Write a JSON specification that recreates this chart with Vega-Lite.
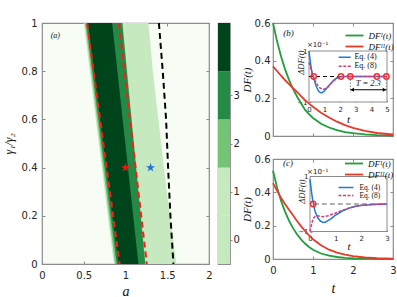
{
  "$schema": "https://vega.github.io/schema/vega-lite/v6.json",
  "background": "white",
  "padding": {"left": 1, "top": 17, "right": 0, "bottom": 0},
  "datasets": {
    "bands": [
      {"lvl": 1, "g": 0, "a": 0.86, "a2": 1.61}, {"lvl": 1, "g": 0.2, "a": 0.788, "a2": 1.53}, {"lvl": 1, "g": 0.4, "a": 0.716, "a2": 1.46}, {"lvl": 1, "g": 0.6, "a": 0.644, "a2": 1.394}, {"lvl": 1, "g": 0.8, "a": 0.572, "a2": 1.327}, {"lvl": 1, "g": 1, "a": 0.5, "a2": 1.275},
      {"lvl": 2, "g": 0, "a": 0.875, "a2": 1.24}, {"lvl": 2, "g": 0.2, "a": 0.803, "a2": 1.185}, {"lvl": 2, "g": 0.4, "a": 0.731, "a2": 1.13}, {"lvl": 2, "g": 0.6, "a": 0.659, "a2": 1.075}, {"lvl": 2, "g": 0.8, "a": 0.587, "a2": 1.02}, {"lvl": 2, "g": 1, "a": 0.515, "a2": 0.965},
      {"lvl": 3, "g": 0, "a": 0.895, "a2": 1.235}, {"lvl": 3, "g": 0.2, "a": 0.822, "a2": 1.18}, {"lvl": 3, "g": 0.4, "a": 0.749, "a2": 1.125}, {"lvl": 3, "g": 0.6, "a": 0.676, "a2": 1.07}, {"lvl": 3, "g": 0.8, "a": 0.603, "a2": 1.015}, {"lvl": 3, "g": 1, "a": 0.53, "a2": 0.96},
      {"lvl": 4, "g": 0, "a": 0.915, "a2": 1.155}, {"lvl": 4, "g": 0.2, "a": 0.842, "a2": 1.092}, {"lvl": 4, "g": 0.4, "a": 0.769, "a2": 1.029}, {"lvl": 4, "g": 0.6, "a": 0.696, "a2": 0.966}, {"lvl": 4, "g": 0.8, "a": 0.623, "a2": 0.903}, {"lvl": 4, "g": 1, "a": 0.55, "a2": 0.84}
    ],
    "redlines": [
      {"id": "L", "a": 0.54, "g": 1}, {"id": "L", "a": 0.93, "g": 0},
      {"id": "R", "a": 0.92, "g": 1}, {"id": "R", "a": 1.255, "g": 0}
    ],
    "blackline": [
      {"a": 1.4, "g": 1}, {"a": 1.446, "g": 0.8}, {"a": 1.486, "g": 0.6}, {"a": 1.51, "g": 0.4}, {"a": 1.538, "g": 0.2}, {"a": 1.574, "g": 0}
    ],
    "stars": [
      {"a": 1.0, "g": 0.4, "who": "red"}, {"a": 1.3, "g": 0.4, "who": "blue"}
    ],
    "cbar": [
      {"lo": -0.5, "hi": 0.5, "lvl": 0}, {"lo": 0.5, "hi": 1.5, "lvl": 1}, {"lo": 1.5, "hi": 2.5, "lvl": 2}, {"lo": 2.5, "hi": 3.5, "lvl": 3}, {"lo": 3.5, "hi": 4.5, "lvl": 4}
    ],
    "mainB": [
      {"s": "DF\u1d35(t)", "t": 0, "v": 0.6}, {"s": "DF\u1d35(t)", "t": 0.1, "v": 0.504}, {"s": "DF\u1d35(t)", "t": 0.2, "v": 0.423}, {"s": "DF\u1d35(t)", "t": 0.3, "v": 0.355}, {"s": "DF\u1d35(t)", "t": 0.4, "v": 0.298}, {"s": "DF\u1d35(t)", "t": 0.5, "v": 0.25}, {"s": "DF\u1d35(t)", "t": 0.6, "v": 0.21}, {"s": "DF\u1d35(t)", "t": 0.7, "v": 0.174}, {"s": "DF\u1d35(t)", "t": 0.8, "v": 0.14}, {"s": "DF\u1d35(t)", "t": 0.9, "v": 0.116}, {"s": "DF\u1d35(t)", "t": 1.0, "v": 0.095}, {"s": "DF\u1d35(t)", "t": 1.2, "v": 0.065}, {"s": "DF\u1d35(t)", "t": 1.4, "v": 0.045}, {"s": "DF\u1d35(t)", "t": 1.6, "v": 0.031}, {"s": "DF\u1d35(t)", "t": 1.8, "v": 0.021}, {"s": "DF\u1d35(t)", "t": 2.0, "v": 0.015}, {"s": "DF\u1d35(t)", "t": 2.3, "v": 0.009}, {"s": "DF\u1d35(t)", "t": 2.6, "v": 0.005}, {"s": "DF\u1d35(t)", "t": 3.0, "v": 0.002},
      {"s": "DF\u1d35\u1d35(t)", "t": 0, "v": 0.37}, {"s": "DF\u1d35\u1d35(t)", "t": 0.1, "v": 0.345}, {"s": "DF\u1d35\u1d35(t)", "t": 0.2, "v": 0.32}, {"s": "DF\u1d35\u1d35(t)", "t": 0.3, "v": 0.297}, {"s": "DF\u1d35\u1d35(t)", "t": 0.4, "v": 0.275}, {"s": "DF\u1d35\u1d35(t)", "t": 0.5, "v": 0.254}, {"s": "DF\u1d35\u1d35(t)", "t": 0.6, "v": 0.234}, {"s": "DF\u1d35\u1d35(t)", "t": 0.7, "v": 0.212}, {"s": "DF\u1d35\u1d35(t)", "t": 0.8, "v": 0.19}, {"s": "DF\u1d35\u1d35(t)", "t": 0.9, "v": 0.172}, {"s": "DF\u1d35\u1d35(t)", "t": 1.0, "v": 0.155}, {"s": "DF\u1d35\u1d35(t)", "t": 1.2, "v": 0.124}, {"s": "DF\u1d35\u1d35(t)", "t": 1.4, "v": 0.098}, {"s": "DF\u1d35\u1d35(t)", "t": 1.6, "v": 0.076}, {"s": "DF\u1d35\u1d35(t)", "t": 1.8, "v": 0.058}, {"s": "DF\u1d35\u1d35(t)", "t": 2.0, "v": 0.043}, {"s": "DF\u1d35\u1d35(t)", "t": 2.3, "v": 0.027}, {"s": "DF\u1d35\u1d35(t)", "t": 2.6, "v": 0.016}, {"s": "DF\u1d35\u1d35(t)", "t": 3.0, "v": 0.008}
    ],
    "mainC": [
      {"s": "DF\u1d35(t)", "t": 0, "v": 0.53}, {"s": "DF\u1d35(t)", "t": 0.1, "v": 0.43}, {"s": "DF\u1d35(t)", "t": 0.2, "v": 0.35}, {"s": "DF\u1d35(t)", "t": 0.3, "v": 0.284}, {"s": "DF\u1d35(t)", "t": 0.4, "v": 0.23}, {"s": "DF\u1d35(t)", "t": 0.5, "v": 0.185}, {"s": "DF\u1d35(t)", "t": 0.6, "v": 0.148}, {"s": "DF\u1d35(t)", "t": 0.7, "v": 0.118}, {"s": "DF\u1d35(t)", "t": 0.8, "v": 0.093}, {"s": "DF\u1d35(t)", "t": 0.9, "v": 0.072}, {"s": "DF\u1d35(t)", "t": 1.0, "v": 0.055}, {"s": "DF\u1d35(t)", "t": 1.2, "v": 0.033}, {"s": "DF\u1d35(t)", "t": 1.4, "v": 0.02}, {"s": "DF\u1d35(t)", "t": 1.6, "v": 0.012}, {"s": "DF\u1d35(t)", "t": 1.8, "v": 0.007}, {"s": "DF\u1d35(t)", "t": 2.0, "v": 0.004}, {"s": "DF\u1d35(t)", "t": 2.3, "v": 0.002}, {"s": "DF\u1d35(t)", "t": 2.6, "v": 0.001}, {"s": "DF\u1d35(t)", "t": 3.0, "v": 0},
      {"s": "DF\u1d35\u1d35(t)", "t": 0, "v": 0.455}, {"s": "DF\u1d35\u1d35(t)", "t": 0.1, "v": 0.41}, {"s": "DF\u1d35\u1d35(t)", "t": 0.2, "v": 0.368}, {"s": "DF\u1d35\u1d35(t)", "t": 0.3, "v": 0.33}, {"s": "DF\u1d35\u1d35(t)", "t": 0.4, "v": 0.295}, {"s": "DF\u1d35\u1d35(t)", "t": 0.5, "v": 0.262}, {"s": "DF\u1d35\u1d35(t)", "t": 0.6, "v": 0.228}, {"s": "DF\u1d35\u1d35(t)", "t": 0.7, "v": 0.197}, {"s": "DF\u1d35\u1d35(t)", "t": 0.8, "v": 0.168}, {"s": "DF\u1d35\u1d35(t)", "t": 0.9, "v": 0.142}, {"s": "DF\u1d35\u1d35(t)", "t": 1.0, "v": 0.118}, {"s": "DF\u1d35\u1d35(t)", "t": 1.2, "v": 0.082}, {"s": "DF\u1d35\u1d35(t)", "t": 1.4, "v": 0.056}, {"s": "DF\u1d35\u1d35(t)", "t": 1.6, "v": 0.038}, {"s": "DF\u1d35\u1d35(t)", "t": 1.8, "v": 0.026}, {"s": "DF\u1d35\u1d35(t)", "t": 2.0, "v": 0.017}, {"s": "DF\u1d35\u1d35(t)", "t": 2.3, "v": 0.009}, {"s": "DF\u1d35\u1d35(t)", "t": 2.6, "v": 0.005}, {"s": "DF\u1d35\u1d35(t)", "t": 3.0, "v": 0.002}
    ],
    "insetB": [
      {"eq": "Eq. (4)", "t": 0, "v": 1.0}, {"eq": "Eq. (4)", "t": 0.05, "v": 0.74}, {"eq": "Eq. (4)", "t": 0.1, "v": 0.5}, {"eq": "Eq. (4)", "t": 0.15, "v": 0.3}, {"eq": "Eq. (4)", "t": 0.2, "v": 0.14}, {"eq": "Eq. (4)", "t": 0.28, "v": 0}, {"eq": "Eq. (4)", "t": 0.35, "v": -0.16}, {"eq": "Eq. (4)", "t": 0.45, "v": -0.36}, {"eq": "Eq. (4)", "t": 0.55, "v": -0.5}, {"eq": "Eq. (4)", "t": 0.65, "v": -0.6}, {"eq": "Eq. (4)", "t": 0.75, "v": -0.64}, {"eq": "Eq. (4)", "t": 0.85, "v": -0.63}, {"eq": "Eq. (4)", "t": 1.0, "v": -0.56}, {"eq": "Eq. (4)", "t": 1.2, "v": -0.42}, {"eq": "Eq. (4)", "t": 1.4, "v": -0.27}, {"eq": "Eq. (4)", "t": 1.6, "v": -0.14}, {"eq": "Eq. (4)", "t": 1.8, "v": -0.05}, {"eq": "Eq. (4)", "t": 2.0, "v": -0.01}, {"eq": "Eq. (4)", "t": 2.2, "v": 0.005}, {"eq": "Eq. (4)", "t": 2.6, "v": 0.003}, {"eq": "Eq. (4)", "t": 3.0, "v": 0}, {"eq": "Eq. (4)", "t": 4.0, "v": 0}, {"eq": "Eq. (4)", "t": 5.0, "v": 0},
      {"eq": "Eq. (8)", "t": 0, "v": 0.55}, {"eq": "Eq. (8)", "t": 0.1, "v": 0.35}, {"eq": "Eq. (8)", "t": 0.2, "v": 0.14}, {"eq": "Eq. (8)", "t": 0.28, "v": 0}, {"eq": "Eq. (8)", "t": 0.4, "v": -0.18}, {"eq": "Eq. (8)", "t": 0.55, "v": -0.34}, {"eq": "Eq. (8)", "t": 0.7, "v": -0.45}, {"eq": "Eq. (8)", "t": 0.85, "v": -0.5}, {"eq": "Eq. (8)", "t": 1.0, "v": -0.49}, {"eq": "Eq. (8)", "t": 1.2, "v": -0.41}, {"eq": "Eq. (8)", "t": 1.4, "v": -0.28}, {"eq": "Eq. (8)", "t": 1.6, "v": -0.16}, {"eq": "Eq. (8)", "t": 1.8, "v": -0.07}, {"eq": "Eq. (8)", "t": 2.0, "v": -0.015}, {"eq": "Eq. (8)", "t": 2.2, "v": 0.005}, {"eq": "Eq. (8)", "t": 2.6, "v": 0.003}, {"eq": "Eq. (8)", "t": 3.0, "v": 0}, {"eq": "Eq. (8)", "t": 4.0, "v": 0}, {"eq": "Eq. (8)", "t": 5.0, "v": 0}
    ],
    "insetC": [
      {"eq": "Eq. (4)", "t": 0, "v": 0.9}, {"eq": "Eq. (4)", "t": 0.05, "v": 0.5}, {"eq": "Eq. (4)", "t": 0.1, "v": 0.17}, {"eq": "Eq. (4)", "t": 0.15, "v": -0.08}, {"eq": "Eq. (4)", "t": 0.2, "v": -0.27}, {"eq": "Eq. (4)", "t": 0.3, "v": -0.5}, {"eq": "Eq. (4)", "t": 0.4, "v": -0.62}, {"eq": "Eq. (4)", "t": 0.5, "v": -0.67}, {"eq": "Eq. (4)", "t": 0.6, "v": -0.66}, {"eq": "Eq. (4)", "t": 0.8, "v": -0.55}, {"eq": "Eq. (4)", "t": 1.0, "v": -0.4}, {"eq": "Eq. (4)", "t": 1.25, "v": -0.26}, {"eq": "Eq. (4)", "t": 1.5, "v": -0.16}, {"eq": "Eq. (4)", "t": 1.75, "v": -0.09}, {"eq": "Eq. (4)", "t": 2.0, "v": -0.05}, {"eq": "Eq. (4)", "t": 2.5, "v": -0.015}, {"eq": "Eq. (4)", "t": 3.0, "v": 0},
      {"eq": "Eq. (8)", "t": 0, "v": -1.0}, {"eq": "Eq. (8)", "t": 0.05, "v": -0.78}, {"eq": "Eq. (8)", "t": 0.1, "v": -0.6}, {"eq": "Eq. (8)", "t": 0.15, "v": -0.5}, {"eq": "Eq. (8)", "t": 0.2, "v": -0.45}, {"eq": "Eq. (8)", "t": 0.3, "v": -0.43}, {"eq": "Eq. (8)", "t": 0.4, "v": -0.45}, {"eq": "Eq. (8)", "t": 0.5, "v": -0.46}, {"eq": "Eq. (8)", "t": 0.7, "v": -0.43}, {"eq": "Eq. (8)", "t": 1.0, "v": -0.33}, {"eq": "Eq. (8)", "t": 1.25, "v": -0.23}, {"eq": "Eq. (8)", "t": 1.5, "v": -0.15}, {"eq": "Eq. (8)", "t": 1.75, "v": -0.09}, {"eq": "Eq. (8)", "t": 2.0, "v": -0.05}, {"eq": "Eq. (8)", "t": 2.5, "v": -0.015}, {"eq": "Eq. (8)", "t": 3.0, "v": 0}
    ]
  },
  "bounds": "full",
  "spacing": 0,
  "hconcat": [
    {
      "bounds": "flush",
      "spacing": 9,
      "hconcat": [
        {
          "width": 167,
          "height": 241,
          "view": {"fill": "#f7fcf5"},
          "layer": [
            {
              "encoding": {
                "x": {"field": "a", "type": "quantitative", "scale": {"domain": [0, 2], "nice": false, "zero": false},
                      "axis": {"values": [0, 0.5, 1, 1.5, 2], "format": "~g", "title": "a", "titleFontSize": 14, "titleY": 31, "titleBaseline": "alphabetic", "labelPadding": 9}},
                "y": {"field": "g", "type": "quantitative", "scale": {"domain": [0, 1], "nice": false, "zero": false},
                      "axis": {"values": [0, 0.2, 0.4, 0.6, 0.8, 1], "format": "~g", "title": "\u03b3\u2081/\u03b3\u2082", "titleFontSize": 12, "titleX": -27, "titleBaseline": "bottom", "labelPadding": 8}}
              },
              "layer": [
                {"data": {"name": "bands"}, "mark": {"type": "area", "orient": "horizontal"},
                 "encoding": {"x2": {"field": "a2"},
                              "color": {"field": "lvl", "type": "ordinal", "scale": {"domain": [1, 2, 3, 4], "range": ["#c7e9c0", "#74c476", "#238b45", "#00441b"]}, "legend": null}}},
                {"data": {"name": "redlines"}, "mark": {"type": "line", "color": "#ff1a1a", "strokeWidth": 2, "strokeDash": [6, 4]},
                 "encoding": {"detail": {"field": "id"}}},
                {"data": {"name": "blackline"}, "mark": {"type": "line", "color": "#000000", "strokeWidth": 2, "strokeDash": [6, 4]}, "encoding": {}},
                {"data": {"name": "stars"}, "mark": {"type": "point", "shape": "M0,-1L0.2245,-0.309L0.951,-0.309L0.363,0.118L0.588,0.809L0,0.382L-0.588,0.809L-0.363,0.118L-0.951,-0.309L-0.2245,-0.309Z", "size": 90, "filled": true, "opacity": 1},
                 "encoding": {"fill": {"field": "who", "type": "nominal", "scale": {"domain": ["red", "blue"], "range": ["#ff1010", "#1f6fdc"]}, "legend": null}}},
                {"data": {"values": [{"a": 0.16, "g": 0.947, "txt": "(a)"}]}, "mark": {"type": "text", "font": "Liberation Serif", "fontStyle": "italic", "fontSize": 8, "color": "#111"},
                 "encoding": {"text": {"field": "txt"}}}
              ]
            },
            {
              "data": {"name": "blackline"},
              "mark": {"type": "point", "opacity": 0},
              "encoding": {
                "x": {"field": "a", "type": "quantitative", "scale": {"domain": [0, 2], "nice": false, "zero": false}, "axis": {"orient": "top", "values": [0, 0.5, 1, 1.5, 2], "labels": false, "title": null}},
                "y": {"field": "g", "type": "quantitative", "scale": {"domain": [0, 1], "nice": false, "zero": false}, "axis": {"orient": "right", "values": [0, 0.2, 0.4, 0.6, 0.8, 1], "labels": false, "title": null}}
              }
            }
          ],
          "resolve": {"scale": {"x": "independent", "y": "independent"}, "axis": {"x": "independent", "y": "independent"}}
        },
        {
          "width": 12,
          "height": 241,
          "data": {"name": "cbar"},
          "mark": "rect",
          "encoding": {
            "y": {"field": "lo", "type": "quantitative", "scale": {"domain": [-0.5, 4.5], "nice": false, "zero": false},
                  "axis": {"orient": "right", "values": [0, 1, 2, 3], "format": "d", "title": null, "tickSize": 2, "labelPadding": 1}},
            "y2": {"field": "hi"},
            "color": {"field": "lvl", "type": "ordinal", "scale": {"domain": [0, 1, 2, 3, 4], "range": ["#f7fcf5", "#c7e9c0", "#74c476", "#238b45", "#00441b"]}, "legend": null}
          }
        }
      ]
    },
    {
      "bounds": "flush",
      "spacing": 23,
      "vconcat": [
        {
          "width": 120,
          "height": 113,
          "layer": [
            {
              "encoding": {
                "x": {"field": "t", "type": "quantitative", "scale": {"domain": [0, 3], "nice": false, "zero": false}, "axis": {"values": [0, 1, 2, 3], "labels": false, "title": null}},
                "y": {"field": "v", "type": "quantitative", "scale": {"domain": [0, 0.6], "nice": false, "zero": false},
                      "axis": {"values": [0, 0.2, 0.4, 0.6], "format": "~g", "title": "DF(t)", "titleFontSize": 11, "titleX": -21, "titleBaseline": "bottom", "labelPadding": 6}}
              },
              "layer": [
                {"data": {"name": "mainB"}, "mark": {"type": "line", "strokeWidth": 1.8},
                 "encoding": {"color": {"field": "s", "type": "nominal", "scale": {"domain": ["DF\u1d35(t)", "DF\u1d35\u1d35(t)"], "range": ["#1f9e3c", "#e8392b"]},
                   "legend": {"orient": "none", "legendX": 76, "legendY": 7, "title": null, "symbolType": "M-2,0L2,0", "symbolSize": 81, "symbolStrokeWidth": 1.8, "labelFont": "Liberation Serif", "labelFontStyle": "italic", "labelFontSize": 9, "labelColor": "#111", "rowPadding": 0, "labelOffset": 8.5}}}},
                {"data": {"values": [{"t": 0.39, "v": 0.545, "txt": "(b)"}]}, "mark": {"type": "text", "font": "Liberation Serif", "fontStyle": "italic", "fontSize": 9, "color": "#111"},
                 "encoding": {"text": {"field": "txt"}}}
              ]
            },
            {
              "encoding": {
                "x": {"field": "t", "type": "quantitative", "scale": {"domain": [0, 5], "range": [36, 114], "nice": false, "zero": false},
                      "axis": {"orient": "bottom", "offset": -34, "values": [0, 1, 2, 3, 4, 5], "format": "d", "title": "t", "titleFontSize": 11, "titleY": 20, "titleBaseline": "alphabetic", "labelFontSize": 7, "tickSize": -2, "labelPadding": 5}},
                "y": {"field": "v", "type": "quantitative", "scale": {"domain": [-1, 1], "range": [79, 28], "nice": false, "zero": false},
                      "axis": {"orient": "left", "offset": -36, "values": [-1, 0, 1], "format": "d", "title": "\u0394DF(t)", "titleFontSize": 8.5, "titleX": -4, "titleY": 39, "titleBaseline": "bottom", "labelFontSize": 7, "tickSize": -2, "labelPadding": 4}}
              },
              "layer": [
                {"data": {"values": [{"t": 0, "t2": 5, "v": -1, "v2": 1}]}, "mark": {"type": "rect", "fill": "white", "stroke": "#8c8c8c", "strokeWidth": 1},
                 "encoding": {"x2": {"field": "t2"}, "y2": {"field": "v2"}}},
                {"data": {"values": [{"t": 0, "t2": 5, "v": 0}]}, "mark": {"type": "rule", "color": "#000000", "strokeWidth": 1, "strokeDash": [4, 3]},
                 "encoding": {"x2": {"field": "t2"}}},
                {"data": {"values": [{"t": 2.65, "v": 0, "v2": -0.62}, {"t": 4.96, "v": 0, "v2": -0.62}]}, "mark": {"type": "rule", "color": "#888888", "strokeWidth": 1, "strokeDash": [1.5, 1.5]},
                 "encoding": {"y2": {"field": "v2"}}},
                {"data": {"name": "insetB"}, "mark": {"type": "line", "strokeWidth": 1.5},
                 "encoding": {
                   "color": {"field": "eq", "type": "nominal", "scale": {"domain": ["Eq. (4)", "Eq. (8)"], "range": ["#1f78d4", "#d93a7a"]},
                     "legend": {"orient": "none", "legendX": 66.7, "legendY": 29.3, "title": null, "symbolType": "M-1.5,0L1.5,0", "symbolSize": 64, "symbolStrokeWidth": 1.5, "labelFont": "Liberation Serif", "labelFontSize": 8, "labelColor": "#111", "rowPadding": 0, "labelOffset": 4.7}},
                   "strokeDash": {"field": "eq", "type": "nominal", "scale": {"domain": ["Eq. (4)", "Eq. (8)"], "range": [[1, 0], [3, 1.5]]},
                     "legend": {"orient": "none", "legendX": 66.7, "legendY": 29.3, "title": null, "symbolType": "M-1.5,0L1.5,0", "symbolSize": 64, "symbolStrokeWidth": 1.5, "labelFont": "Liberation Serif", "labelFontSize": 8, "labelColor": "#111", "rowPadding": 0, "labelOffset": 4.7}}
                 }},
                {"data": {"values": [{"t": 0.3, "v": 0}, {"t": 2.05, "v": 0}, {"t": 2.65, "v": 0}, {"t": 4.35, "v": 0}, {"t": 4.96, "v": 0}]},
                 "mark": {"type": "point", "shape": "circle", "size": 28, "filled": false, "stroke": "#ff2a2a", "strokeWidth": 1.5, "opacity": 1}, "encoding": {}},
                {"data": {"values": [{"t": 2.65, "t2": 4.96, "v": -0.52}]}, "mark": {"type": "rule", "color": "#000000", "strokeWidth": 1},
                 "encoding": {"x2": {"field": "t2"}}},
                {"data": {"values": [{"t": 2.77, "v": -0.52, "d": "l"}, {"t": 4.84, "v": -0.52, "d": "r"}]},
                 "mark": {"type": "point", "filled": true, "color": "#000000", "size": 16, "opacity": 1},
                 "encoding": {"shape": {"field": "d", "type": "nominal", "scale": {"domain": ["l", "r"], "range": ["triangle-left", "triangle-right"]}, "legend": null}}},
                {"data": {"values": [{"t": 3.8, "v": -0.25, "txt": "T = 2.3"}]}, "mark": {"type": "text", "font": "Liberation Serif", "fontStyle": "italic", "fontSize": 8.5, "color": "#111"},
                 "encoding": {"text": {"field": "txt"}}},
                {"data": {"values": [{"t": 0.55, "v": 1.25, "txt": "\u00d710\u207b\u00b9"}]}, "mark": {"type": "text", "font": "DejaVu Sans", "fontSize": 7, "color": "#222"},
                 "encoding": {"text": {"field": "txt"}}}
              ]
            },
            {
              "data": {"name": "mainB"},
              "mark": {"type": "point", "opacity": 0},
              "encoding": {
                "x": {"field": "t", "type": "quantitative", "scale": {"domain": [0, 3], "nice": false, "zero": false}, "axis": {"orient": "top", "values": [0, 1, 2, 3], "labels": false, "title": null}},
                "y": {"field": "v", "type": "quantitative", "scale": {"domain": [0, 0.6], "nice": false, "zero": false}, "axis": {"orient": "right", "values": [0, 0.2, 0.4, 0.6], "labels": false, "title": null}}
              }
            }
          ],
          "resolve": {"scale": {"x": "independent", "y": "independent", "color": "independent", "strokeDash": "independent", "shape": "independent"}, "axis": {"x": "independent", "y": "independent"}, "legend": {"color": "independent", "strokeDash": "independent"}}
        },
        {
          "width": 120,
          "height": 100,
          "layer": [
            {
              "encoding": {
                "x": {"field": "t", "type": "quantitative", "scale": {"domain": [0, 3], "nice": false, "zero": false},
                      "axis": {"values": [0, 1, 2, 3], "format": "d", "title": "t", "titleFontSize": 14, "titleY": 33, "titleBaseline": "alphabetic", "labelPadding": 9}},
                "y": {"field": "v", "type": "quantitative", "scale": {"domain": [0, 0.6], "nice": false, "zero": false},
                      "axis": {"values": [0, 0.2, 0.4, 0.6], "format": "~g", "title": "DF(t)", "titleFontSize": 11, "titleX": -21, "titleBaseline": "bottom", "labelPadding": 6}}
              },
              "layer": [
                {"data": {"name": "mainC"}, "mark": {"type": "line", "strokeWidth": 1.8},
                 "encoding": {"color": {"field": "s", "type": "nominal", "scale": {"domain": ["DF\u1d35(t)", "DF\u1d35\u1d35(t)"], "range": ["#1f9e3c", "#e8392b"]},
                   "legend": {"orient": "none", "legendX": 75.5, "legendY": -1, "title": null, "symbolType": "M-2,0L2,0", "symbolSize": 81, "symbolStrokeWidth": 1.8, "labelFont": "Liberation Serif", "labelFontStyle": "italic", "labelFontSize": 9, "labelColor": "#111", "rowPadding": 0, "labelOffset": 8.5}}}},
                {"data": {"values": [{"t": 0.375, "v": 0.575, "txt": "(c)"}]}, "mark": {"type": "text", "font": "Liberation Serif", "fontStyle": "italic", "fontSize": 9, "color": "#111"},
                 "encoding": {"text": {"field": "txt"}}}
              ]
            },
            {
              "encoding": {
                "x": {"field": "t", "type": "quantitative", "scale": {"domain": [0, 3], "range": [37, 114], "nice": false, "zero": false},
                      "axis": {"orient": "bottom", "offset": -27.5, "values": [0, 1, 2, 3], "format": "d", "title": "t", "titleFontSize": 11, "titleY": 18, "titleBaseline": "alphabetic", "labelFontSize": 7, "tickSize": -2, "labelPadding": 5}},
                "y": {"field": "v", "type": "quantitative", "scale": {"domain": [-1, 1], "range": [72.5, 17.5], "nice": false, "zero": false},
                      "axis": {"orient": "left", "offset": -37, "values": [-1, 0, 1], "format": "d", "title": "\u0394DF(t)", "titleFontSize": 8.5, "titleX": -4, "titleY": 32, "titleBaseline": "bottom", "labelFontSize": 7, "tickSize": -2, "labelPadding": 4}}
              },
              "layer": [
                {"data": {"values": [{"t": 0, "t2": 3, "v": -1, "v2": 1}]}, "mark": {"type": "rect", "fill": "white", "stroke": "#8c8c8c", "strokeWidth": 1},
                 "encoding": {"x2": {"field": "t2"}, "y2": {"field": "v2"}}},
                {"data": {"values": [{"t": 0.15, "t2": 3, "v": 0}]}, "mark": {"type": "rule", "color": "#999999", "strokeWidth": 1.5, "strokeDash": [5, 3]},
                 "encoding": {"x2": {"field": "t2"}}},
                {"data": {"name": "insetC"}, "mark": {"type": "line", "strokeWidth": 1.5},
                 "encoding": {
                   "color": {"field": "eq", "type": "nominal", "scale": {"domain": ["Eq. (4)", "Eq. (8)"], "range": ["#1f78d4", "#d93a7a"]},
                     "legend": {"orient": "none", "legendX": 69, "legendY": 24.5, "title": null, "symbolType": "M-2.5,0L2.5,0", "symbolSize": 36, "symbolStrokeWidth": 1.5, "labelFont": "Liberation Serif", "labelFontSize": 7.5, "labelColor": "#111", "rowPadding": 0, "labelOffset": 9.5}},
                   "strokeDash": {"field": "eq", "type": "nominal", "scale": {"domain": ["Eq. (4)", "Eq. (8)"], "range": [[1, 0], [3, 1.5]]},
                     "legend": {"orient": "none", "legendX": 69, "legendY": 24.5, "title": null, "symbolType": "M-2.5,0L2.5,0", "symbolSize": 36, "symbolStrokeWidth": 1.5, "labelFont": "Liberation Serif", "labelFontSize": 7.5, "labelColor": "#111", "rowPadding": 0, "labelOffset": 9.5}}
                 }},
                {"data": {"values": [{"t": 0.12, "v": 0}]},
                 "mark": {"type": "point", "shape": "circle", "size": 28, "filled": false, "stroke": "#ff2a2a", "strokeWidth": 1.5, "opacity": 1}, "encoding": {}},
                {"data": {"values": [{"t": 0.3, "v": 1.17, "txt": "\u00d710\u207b\u00b9"}]}, "mark": {"type": "text", "font": "DejaVu Sans", "fontSize": 7, "color": "#222"},
                 "encoding": {"text": {"field": "txt"}}}
              ]
            },
            {
              "data": {"name": "mainC"},
              "mark": {"type": "point", "opacity": 0},
              "encoding": {
                "x": {"field": "t", "type": "quantitative", "scale": {"domain": [0, 3], "nice": false, "zero": false}, "axis": {"orient": "top", "values": [0, 1, 2, 3], "labels": false, "title": null}},
                "y": {"field": "v", "type": "quantitative", "scale": {"domain": [0, 0.6], "nice": false, "zero": false}, "axis": {"orient": "right", "values": [0, 0.2, 0.4, 0.6], "labels": false, "title": null}}
              }
            }
          ],
          "resolve": {"scale": {"x": "independent", "y": "independent", "color": "independent", "strokeDash": "independent"}, "axis": {"x": "independent", "y": "independent"}, "legend": {"color": "independent", "strokeDash": "independent"}}
        }
      ]
    }
  ],
  "config": {
    "view": {"stroke": "#8c8c8c", "strokeWidth": 1.2},
    "axis": {"domain": false, "grid": false, "tickColor": "#8c8c8c", "tickSize": -3, "tickWidth": 1, "labelFont": "DejaVu Sans", "labelFontSize": 10, "labelColor": "#262626", "labelFlush": false, "labelOverlap": false, "titleFont": "Liberation Serif", "titleFontStyle": "italic", "titleFontWeight": "normal", "titleColor": "#111111"},
    "text": {"baseline": "middle", "align": "center"}
  }
}
